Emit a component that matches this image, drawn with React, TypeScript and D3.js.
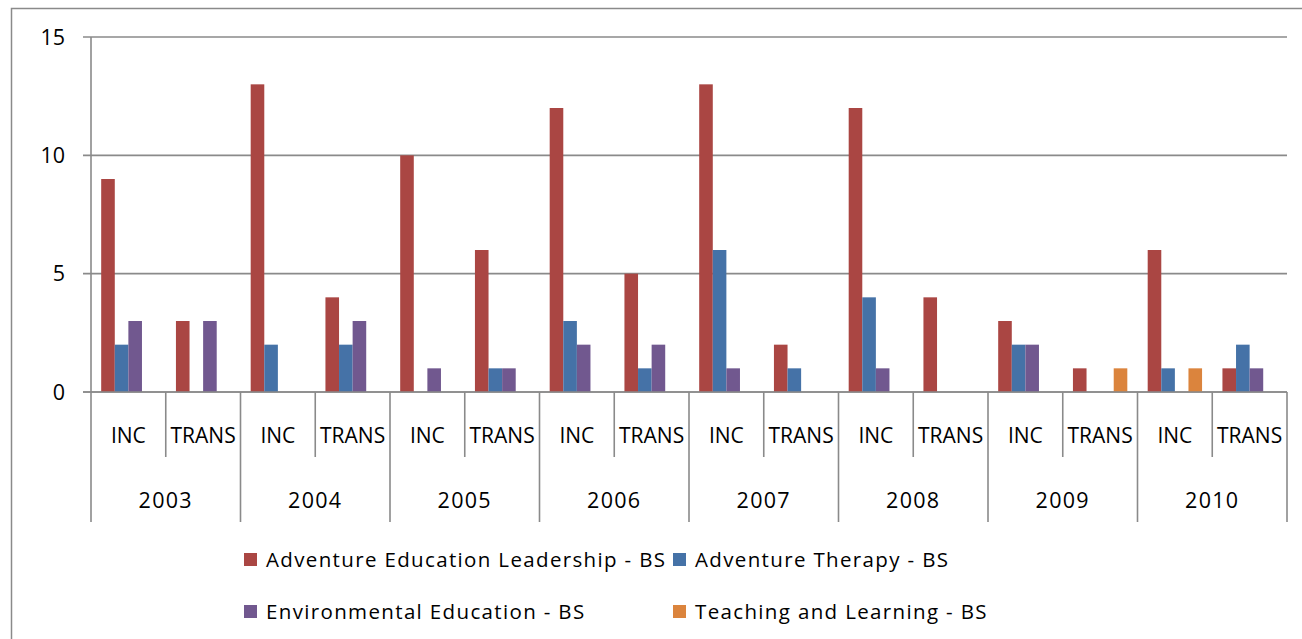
import React from "react";
import * as d3 from "d3";

const years = ["2003", "2004", "2005", "2006", "2007", "2008", "2009", "2010"];
const types = ["INC", "TRANS"];
const seriesNames = [
  "Adventure Education Leadership - BS",
  "Adventure Therapy - BS",
  "Environmental Education - BS",
  "Teaching and Learning - BS",
];
const seriesColors = ["#AA4643", "#4572A7", "#71588F", "#DB843D"];
// values per category in order 2003 INC, 2003 TRANS, 2004 INC, ...
const aelValues = [9, 3, 13, 4, 10, 6, 12, 5, 13, 2, 12, 4, 3, 1, 6, 1];
const atValues = [2, 0, 2, 2, 0, 1, 3, 1, 6, 1, 4, 0, 2, 0, 1, 2];
const eeValues = [3, 3, 0, 3, 1, 1, 2, 2, 1, 0, 1, 0, 2, 0, 0, 1];
const tlValues = [0, 0, 0, 0, 0, 0, 0, 0, 0, 0, 0, 0, 0, 1, 1, 0];
const yTicks = [0, 5, 10, 15];

const allSeries = [aelValues, atValues, eeValues, tlValues];

export default function App() {
  const W = 1302;
  const H = 639;
  const left = 91;
  const right = 1287;
  const top = 37;
  const bottom = 392;
  const font = "'Open Sans', 'Liberation Sans', sans-serif";
  const grid = "#8a8a8a";

  const cats = years.flatMap((y) => types.map((t) => `${y}|${t}`));
  const x = d3.scaleBand<string>().domain(cats).range([left, right]).padding(0);
  const yearScale = d3.scaleBand<string>().domain(years).range([left, right]).padding(0);
  const inner = d3
    .scaleBand<string>()
    .domain(seriesNames)
    .range([0, x.bandwidth()])
    .paddingInner(0)
    .paddingOuter(0.75);
  const y = d3.scaleLinear().domain([0, 15]).range([bottom, top]);

  const legendItems = [
    { name: seriesNames[0], color: seriesColors[0], lx: 244, ly: 553 },
    { name: seriesNames[1], color: seriesColors[1], lx: 673, ly: 553 },
    { name: seriesNames[2], color: seriesColors[2], lx: 244, ly: 605 },
    { name: seriesNames[3], color: seriesColors[3], lx: 673, ly: 605 },
  ];

  return (
    <svg
      width={W}
      height={H}
      style={{ position: "absolute", left: 0, top: 0, background: "#fff" }}
      fontFamily={font}
    >
      <rect x={11.5} y={8.5} width={1320} height={660} fill="#fff" stroke="#8a8a8a" strokeWidth={1.5} />

      {/* gridlines */}
      {yTicks.map((t) => (
        <line key={"g" + t} x1={83} x2={right} y1={y(t)} y2={y(t)} stroke={grid} strokeWidth={1.6} />
      ))}
      {/* y tick labels */}
      {yTicks.map((t) => (
        <text key={"t" + t} x={65} y={y(t) + 7.5} fontSize={21.5} textAnchor="end" fill="#000">
          {t}
        </text>
      ))}

      {/* bars */}
      {allSeries.map((vals, si) =>
        vals.map((v, ci) =>
          v > 0 ? (
            <rect
              key={`b${si}-${ci}`}
              x={(x(cats[ci]) as number) + (inner(seriesNames[si]) as number)}
              y={y(v)}
              width={inner.bandwidth()}
              height={y(0) - y(v)}
              fill={seriesColors[si]}
            />
          ) : null
        )
      )}

      {/* y axis */}
      <line x1={left} x2={left} y1={top} y2={bottom} stroke={grid} strokeWidth={1.6} />
      <line x1={83} x2={right} y1={bottom} y2={bottom} stroke={grid} strokeWidth={1.6} />

      {/* category separators */}
      {cats.map((c, i) =>
        i % 2 === 1 ? (
          <line key={"s" + c} x1={x(c) as number} x2={x(c) as number} y1={bottom} y2={457} stroke={grid} strokeWidth={1.6} />
        ) : null
      )}
      {years.map((yr) => (
        <line key={"ys" + yr} x1={yearScale(yr) as number} x2={yearScale(yr) as number} y1={bottom} y2={522} stroke={grid} strokeWidth={1.6} />
      ))}
      <line x1={right} x2={right} y1={bottom} y2={522} stroke={grid} strokeWidth={1.6} />

      {/* category labels */}
      {cats.map((c) => (
        <text
          key={"cl" + c}
          x={(x(c) as number) + x.bandwidth() / 2}
          y={443}
          fontSize={21}
          textAnchor="middle"
          fill="#000"
        >
          {c.split("|")[1]}
        </text>
      ))}
      {years.map((yr) => (
        <text
          key={"yl" + yr}
          x={(yearScale(yr) as number) + yearScale.bandwidth() / 2}
          y={508}
          fontSize={21.5}
          textAnchor="middle"
          letterSpacing={1.3}
          fill="#000"
        >
          {yr}
        </text>
      ))}

      {/* legend */}
      {legendItems.map((it) => (
        <g key={"l" + it.name}>
          <rect x={it.lx} y={it.ly} width={13} height={13} fill={it.color} />
          <text x={it.lx + 22} y={it.ly + 14} fontSize={20.5} letterSpacing={1.35} fill="#000">
            {it.name}
          </text>
        </g>
      ))}
    </svg>
  );
}
